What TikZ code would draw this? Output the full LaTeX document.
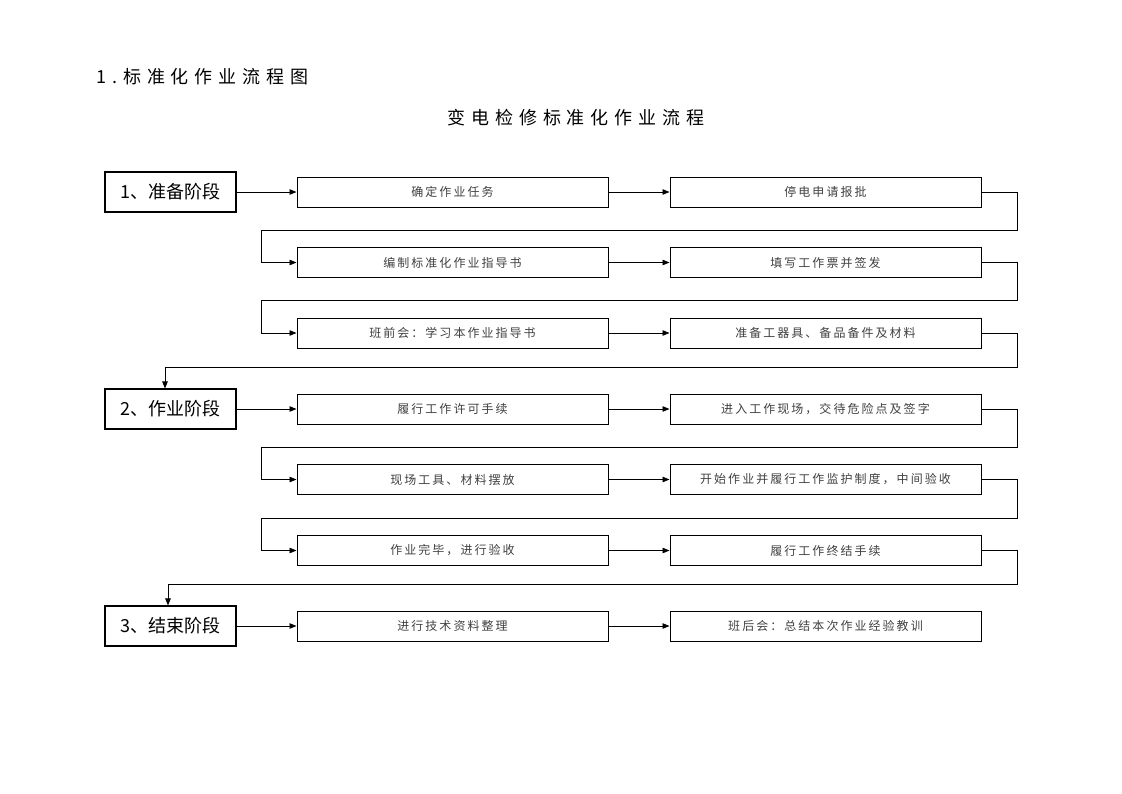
\documentclass[tikz,border=0pt]{standalone}
\usepackage{fontspec}
\setmainfont{Noto Sans CJK SC}
\newfontfamily\boxfont[LetterSpace=17]{Noto Sans CJK SC}
\newfontfamily\titlefont[LetterSpace=33]{Noto Sans CJK SC}
\newfontfamily\subfont[LetterSpace=33]{Noto Sans CJK SC}
\usetikzlibrary{arrows.meta}
\tikzset{
  stagebox/.style={draw, line width=1.1pt, minimum width=131pt, minimum height=40pt, inner sep=0pt, font=\fontsize{18}{20}\selectfont},
  taskbox/.style={draw, line width=1pt, minimum width=311pt, minimum height=30pt, inner sep=0pt, text=black!75, font=\boxfont\fontsize{12}{14}\selectfont},
  arr/.style={line width=0.9pt, -{Triangle[length=7pt,width=5.5pt]}},
  link/.style={line width=0.9pt, -{Triangle[length=7pt,width=5.5pt]}}
}
\begin{document}
\begin{tikzpicture}[x=1pt,y=-1pt]
\useasboundingbox (0,0) rectangle (1122,793);
\node[anchor=west, inner sep=0pt, font=\titlefont\fontsize{18}{20}\selectfont] (title) at (96,77) {1.标准化作业流程图};
\node[font=\subfont\fontsize{18}{20}\selectfont] (subtitle) at (576,118) {变电检修标准化作业流程};

\node[stagebox] (s1) at (170.5,192) {1、准备阶段};
\node[stagebox] (s2) at (170.5,409) {2、作业阶段};
\node[stagebox] (s3) at (170.5,626) {3、结束阶段};

\node[taskbox] (m1) at (452.5,192) {确定作业任务};
\node[taskbox] (r1) at (825.5,192) {停电申请报批};
\node[taskbox] (m2) at (452.5,262.5) {编制标准化作业指导书};
\node[taskbox] (r2) at (825.5,262.5) {填写工作票并签发};
\node[taskbox] (m3) at (452.5,333) {班前会：学习本作业指导书};
\node[taskbox] (r3) at (825.5,333) {准备工器具、备品备件及材料};
\node[taskbox] (m4) at (452.5,409) {履行工作许可手续};
\node[taskbox] (r4) at (825.5,409) {进入工作现场，交待危险点及签字};
\node[taskbox] (m5) at (452.5,479.5) {现场工具、材料摆放};
\node[taskbox] (r5) at (825.5,479.5) {开始作业并履行工作监护制度，中间验收};
\node[taskbox] (m6) at (452.5,550.5) {作业完毕，进行验收};
\node[taskbox] (r6) at (825.5,550.5) {履行工作终结手续};
\node[taskbox] (m7) at (452.5,626) {进行技术资料整理};
\node[taskbox] (r7) at (825.5,626) {班后会：总结本次作业经验教训};

% horizontal arrows
\draw[arr] (s1) -- (m1);
\draw[arr] (s2) -- (m4);
\draw[arr] (s3) -- (m7);
\foreach \i in {1,...,7} { \draw[arr] (m\i) -- (r\i); }

% loop-back connectors
\coordinate (a1) at (1017,230);   \coordinate (b1) at (261,230);
\coordinate (a2) at (1017,300);   \coordinate (b2) at (261,300);
\coordinate (a3) at (1017,367);   \coordinate (b3) at (165,367);
\coordinate (a4) at (1017,447);   \coordinate (b4) at (261,447);
\coordinate (a5) at (1017,518);   \coordinate (b5) at (261,518);
\coordinate (a6) at (1017,584);   \coordinate (b6) at (168,584);

\draw[link] (r1.east) -| (a1) -- (b1) |- (m2.west);
\draw[link] (r2.east) -| (a2) -- (b2) |- (m3.west);
\draw[link] (r3.east) -| (a3) -- (b3) -- (b3 |- s2.north);
\draw[link] (r4.east) -| (a4) -- (b4) |- (m5.west);
\draw[link] (r5.east) -| (a5) -- (b5) |- (m6.west);
\draw[link] (r6.east) -| (a6) -- (b6) -- (b6 |- s3.north);
\end{tikzpicture}
\end{document}
